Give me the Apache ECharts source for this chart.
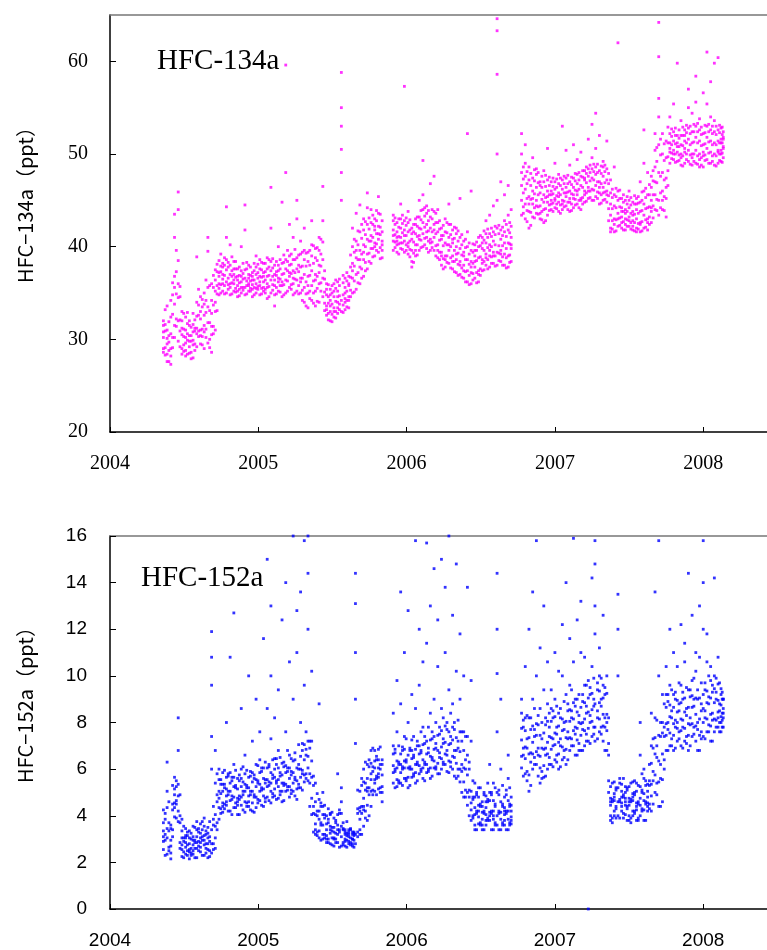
<!DOCTYPE html>
<html>
<head>
<meta charset="utf-8">
<script src="https://cdn.jsdelivr.net/npm/echarts@6/dist/echarts.min.js"></script>
<style>
  html, body { margin: 0; padding: 0; background: #fff; }
  #chart { width: 767px; height: 950px; }
</style>
</head>
<body>
<div id="chart"></div>
<script>
// each row: [decimal year, values for that time slot...]
const rows134 = [
  [2004.360, 29.0, 30.2, 31.5, 28.6, 30.8, 32.0],
  [2004.385, 28.4, 29.5, 31.0, 33.6, 30.1, 27.6],
  [2004.410, 27.3, 29.0, 30.6, 32.4, 34.2, 28.2],
  [2004.435, 31.5, 33.8, 35.6, 30.2, 36.8, 41.0, 43.5],
  [2004.460, 32.0, 34.5, 36.0, 38.5, 45.9, 44.0, 29.8],
  [2004.485, 29.0, 30.5, 32.0, 28.4, 31.2, 33.0],
  [2004.510, 28.2, 29.6, 31.0, 30.2, 28.8, 32.4],
  [2004.535, 28.5, 29.8, 31.5, 30.4, 29.2, 32.0],
  [2004.560, 28.0, 29.4, 30.8, 31.6, 29.9, 32.8],
  [2004.585, 29.2, 30.6, 32.5, 34.0, 31.2, 38.9],
  [2004.610, 29.5, 31.0, 33.0, 34.6, 30.4, 32.2],
  [2004.635, 29.0, 30.8, 32.6, 35.0, 31.5, 33.8],
  [2004.660, 29.6, 31.8, 33.5, 35.6, 41.0, 39.5],
  [2004.685, 28.6, 30.5, 32.8, 34.2, 36.0, 31.4],
  [2004.710, 31.0, 33.0, 35.2, 36.4, 34.0, 37.5],
  [2004.735, 34.8, 36.0, 37.2, 38.5, 35.5, 36.8],
  [2004.760, 35.2, 36.5, 37.8, 38.2, 36.0, 37.0],
  [2004.785, 35.0, 36.2, 37.5, 38.6, 41.0, 44.3],
  [2004.810, 34.8, 36.0, 37.0, 38.0, 35.6, 40.2],
  [2004.835, 35.2, 36.4, 37.6, 38.4, 36.0, 37.0],
  [2004.860, 34.6, 35.8, 36.8, 37.6, 35.2, 36.4],
  [2004.885, 35.0, 36.2, 37.4, 35.6, 36.8, 40.0],
  [2004.910, 34.8, 35.6, 36.6, 37.5, 44.5, 41.8],
  [2004.935, 35.2, 36.0, 37.0, 38.0, 35.8, 36.6],
  [2004.960, 34.6, 35.4, 36.4, 37.2, 35.9, 36.8],
  [2004.985, 35.0, 36.0, 37.0, 37.8, 35.5, 39.0],
  [2005.010, 34.8, 35.8, 36.8, 37.6, 36.2, 38.6],
  [2005.035, 35.2, 36.2, 37.2, 38.2, 35.6, 36.8],
  [2005.060, 34.4, 35.6, 36.8, 37.6, 36.0, 38.8],
  [2005.085, 35.0, 36.4, 37.4, 38.4, 42.0, 46.4],
  [2005.110, 34.8, 35.8, 37.0, 38.0, 36.4, 33.6],
  [2005.135, 35.2, 36.2, 37.4, 38.0, 36.6, 40.0],
  [2005.160, 34.6, 35.8, 37.0, 38.2, 36.2, 44.8],
  [2005.185, 35.0, 36.4, 37.6, 38.6, 48.0, 59.6],
  [2005.210, 35.6, 36.8, 38.0, 39.0, 37.2, 42.4],
  [2005.235, 34.8, 36.0, 37.4, 38.6, 36.6, 41.0],
  [2005.260, 35.2, 36.4, 37.6, 38.8, 43.0, 45.0],
  [2005.285, 35.0, 36.6, 37.8, 39.2, 36.2, 40.6],
  [2005.310, 34.0, 35.6, 37.0, 38.6, 39.6, 42.0],
  [2005.335, 33.4, 35.0, 36.8, 38.4, 39.4, 35.8],
  [2005.360, 34.2, 35.8, 37.4, 39.0, 40.2, 42.8],
  [2005.385, 33.6, 35.2, 37.0, 38.8, 36.4, 39.8],
  [2005.410, 34.0, 36.0, 38.0, 39.6, 41.0, 37.2],
  [2005.435, 34.6, 36.6, 38.6, 40.5, 42.8, 46.5],
  [2005.460, 32.6, 33.6, 34.8, 36.0, 33.2, 35.4],
  [2005.485, 32.0, 33.0, 34.2, 35.4, 33.6, 34.8],
  [2005.510, 32.4, 33.4, 34.6, 36.0, 33.0, 35.2],
  [2005.535, 32.8, 34.0, 35.2, 36.2, 33.4, 34.6],
  [2005.560, 33.0, 34.2, 45.0, 48.0, 50.5, 53.0, 55.0, 58.8],
  [2005.585, 33.2, 34.4, 35.6, 36.6, 34.0, 35.0],
  [2005.610, 33.4, 34.6, 35.8, 36.8, 34.2, 36.0],
  [2005.635, 35.0, 36.6, 38.2, 40.0, 42.0, 37.4],
  [2005.660, 35.4, 37.0, 38.8, 40.6, 43.6, 39.6],
  [2005.685, 36.0, 37.8, 39.6, 41.6, 44.5, 38.6],
  [2005.710, 36.8, 38.6, 40.2, 41.8, 43.0, 39.4],
  [2005.735, 37.6, 39.2, 40.8, 42.4, 44.2, 45.8],
  [2005.760, 38.2, 39.8, 41.2, 42.6, 40.6, 44.0],
  [2005.785, 39.0, 40.4, 41.8, 43.0, 40.0, 42.2],
  [2005.810, 39.4, 40.8, 42.2, 43.6, 41.4, 45.4],
  [2005.835, 38.8, 40.2, 41.6, 42.8, 40.6, 39.6],
  [2005.910, 39.6, 40.6, 41.8, 42.8, 41.2, 43.4],
  [2005.935, 39.4, 40.6, 41.6, 42.6, 40.2, 41.0],
  [2005.960, 39.8, 41.0, 42.0, 43.0, 40.4, 44.6],
  [2005.985, 39.4, 40.6, 41.8, 42.8, 41.2, 57.3],
  [2006.010, 39.2, 40.4, 41.6, 42.6, 40.0, 43.8],
  [2006.035, 38.4, 39.6, 40.8, 42.0, 37.8, 41.4],
  [2006.060, 39.0, 40.2, 41.4, 42.4, 39.6, 43.0],
  [2006.085, 39.6, 40.8, 42.0, 43.2, 41.2, 45.0],
  [2006.110, 40.0, 41.4, 42.6, 44.0, 45.6, 49.3],
  [2006.135, 39.8, 41.0, 42.4, 43.6, 41.6, 44.4],
  [2006.160, 39.6, 40.8, 42.0, 43.2, 40.4, 46.8],
  [2006.185, 39.6, 41.0, 42.4, 43.8, 41.8, 47.6],
  [2006.210, 38.8, 40.2, 41.6, 42.6, 39.6, 44.0],
  [2006.235, 38.0, 39.4, 40.8, 42.0, 39.0, 41.2],
  [2006.260, 37.8, 39.0, 40.4, 41.6, 38.6, 43.0],
  [2006.285, 38.2, 39.6, 41.0, 42.4, 40.2, 44.6],
  [2006.310, 37.6, 39.0, 40.4, 41.8, 38.4, 40.8],
  [2006.335, 37.2, 38.6, 40.0, 41.4, 39.2, 42.0],
  [2006.360, 37.0, 38.4, 39.8, 41.0, 38.0, 45.2],
  [2006.385, 36.6, 38.0, 39.4, 40.6, 37.4, 39.0],
  [2006.410, 36.2, 37.4, 38.6, 40.0, 41.6, 52.2],
  [2006.435, 36.0, 37.2, 38.4, 39.6, 37.8, 46.0],
  [2006.460, 36.6, 37.8, 39.0, 40.2, 38.4, 39.6],
  [2006.485, 36.2, 37.4, 38.8, 40.0, 37.0, 41.0],
  [2006.510, 37.4, 38.6, 39.8, 41.0, 38.2, 40.4],
  [2006.535, 38.0, 39.2, 40.4, 41.4, 38.8, 42.8],
  [2006.560, 37.8, 39.0, 40.2, 41.4, 39.6, 43.4],
  [2006.585, 38.2, 39.4, 40.6, 41.6, 39.0, 44.4],
  [2006.610, 38.0, 39.4, 42.0, 45.0, 50.0, 58.6, 63.3, 64.6],
  [2006.635, 38.4, 39.6, 40.8, 41.8, 39.2, 47.0],
  [2006.660, 38.0, 39.2, 40.4, 41.6, 42.8, 45.6],
  [2006.685, 37.8, 39.0, 40.4, 41.8, 43.4, 46.6],
  [2006.705, 38.4, 39.8, 41.0, 42.2, 40.2, 44.0],
  [2006.775, 43.4, 45.0, 46.6, 48.0, 50.0, 52.2],
  [2006.800, 43.0, 44.6, 46.2, 47.6, 49.0, 51.0],
  [2006.825, 42.0, 43.8, 45.4, 47.2, 44.6, 48.6],
  [2006.850, 43.2, 44.6, 46.0, 47.4, 45.2, 49.6],
  [2006.875, 43.6, 45.0, 46.4, 47.8, 44.4, 48.4],
  [2006.900, 43.0, 44.4, 45.8, 47.0, 43.6, 46.6],
  [2006.925, 42.6, 44.0, 45.6, 47.0, 44.8, 48.2],
  [2006.950, 43.4, 44.8, 46.0, 47.2, 45.4, 50.6],
  [2006.975, 44.0, 45.0, 46.0, 47.0, 44.6, 45.6],
  [2007.000, 44.2, 45.2, 46.2, 47.0, 45.0, 49.0],
  [2007.025, 43.8, 44.8, 45.8, 46.8, 45.4, 47.8],
  [2007.050, 44.0, 45.0, 46.2, 47.2, 44.6, 53.0],
  [2007.075, 44.4, 45.4, 46.4, 47.4, 45.8, 50.4],
  [2007.100, 43.8, 44.8, 46.0, 47.0, 45.2, 48.8],
  [2007.125, 44.2, 45.2, 46.4, 47.4, 45.6, 51.0],
  [2007.150, 44.6, 45.6, 46.8, 47.8, 46.0, 49.4],
  [2007.175, 44.0, 45.2, 46.6, 47.6, 45.0, 50.2],
  [2007.200, 44.8, 46.0, 47.2, 48.2, 45.6, 47.4],
  [2007.225, 45.2, 46.4, 47.6, 48.4, 46.0, 51.6],
  [2007.250, 45.0, 46.2, 47.4, 48.4, 49.6, 53.2],
  [2007.275, 45.4, 46.6, 47.8, 48.6, 50.6, 54.4],
  [2007.300, 44.6, 45.8, 47.0, 48.2, 46.4, 52.0],
  [2007.325, 45.0, 46.4, 47.6, 48.6, 45.8, 49.2],
  [2007.350, 44.8, 46.0, 47.2, 48.4, 45.6, 51.4],
  [2007.375, 42.0, 43.4, 44.6, 45.8, 41.6, 47.2],
  [2007.400, 41.6, 43.0, 44.4, 45.6, 42.4, 48.6],
  [2007.425, 42.2, 43.6, 45.0, 46.0, 43.0, 62.0],
  [2007.450, 42.0, 43.2, 44.2, 45.2, 42.6, 43.8],
  [2007.475, 41.8, 43.0, 44.0, 45.0, 42.4, 43.6],
  [2007.500, 42.2, 43.2, 44.2, 45.0, 42.8, 46.0],
  [2007.525, 41.8, 42.8, 43.8, 44.8, 42.2, 43.4],
  [2007.550, 42.0, 43.0, 44.0, 45.2, 41.6, 44.6],
  [2007.575, 41.6, 42.6, 43.8, 44.8, 42.4, 47.0],
  [2007.600, 42.0, 43.4, 44.6, 46.0, 49.0, 52.6],
  [2007.625, 41.8, 43.0, 44.2, 45.6, 42.6, 48.0],
  [2007.650, 42.6, 43.8, 45.0, 46.4, 44.2, 47.6],
  [2007.675, 44.0, 45.6, 47.0, 48.6, 50.4, 52.2],
  [2007.700, 43.4, 45.0, 48.0, 51.0, 54.0, 56.0, 60.5, 64.2],
  [2007.725, 44.0, 46.0, 48.0, 50.0, 52.2, 45.0],
  [2007.750, 43.2, 45.2, 47.4, 49.6, 51.4, 46.4],
  [2007.775, 49.0, 50.2, 51.2, 52.2, 50.6, 54.0],
  [2007.800, 49.4, 50.4, 51.4, 52.4, 50.0, 55.4],
  [2007.825, 49.2, 50.2, 51.2, 52.0, 50.8, 59.8],
  [2007.850, 48.8, 50.0, 51.0, 52.0, 49.6, 53.6],
  [2007.875, 49.0, 50.2, 51.4, 52.6, 50.6, 52.0],
  [2007.900, 49.2, 50.4, 51.6, 52.8, 55.0, 57.0],
  [2007.925, 48.8, 50.0, 51.2, 52.4, 49.6, 54.4],
  [2007.950, 49.0, 50.4, 51.8, 53.0, 55.6, 58.4],
  [2007.975, 48.6, 50.0, 51.4, 52.6, 49.4, 53.8],
  [2008.000, 48.6, 49.8, 51.0, 52.2, 50.2, 56.6],
  [2008.025, 49.4, 50.6, 51.8, 53.0, 55.4, 61.0],
  [2008.050, 49.0, 50.2, 51.4, 52.6, 54.0, 57.8],
  [2008.075, 48.8, 50.0, 51.2, 52.4, 53.6, 59.8],
  [2008.100, 49.0, 50.2, 51.4, 52.6, 50.4, 60.4],
  [2008.120, 49.2, 50.4, 51.6, 52.8, 50.0, 51.2],
  [2008.135, 49.6, 50.6, 51.6, 52.4, 50.8, 51.8]
];

// in-between time slots, HFC-134a baseline band
const rows134b = [
  [2004.372, 28.3, 29.1, 30.9, 31.6, 33.2],
  [2004.397, 27.6, 28.8, 29.7, 31.9, 30.4],
  [2004.422, 29.1, 30.2, 32.7, 34.8, 36.1],
  [2004.447, 31.4, 32.2, 34.9, 37.3, 39.6],
  [2004.472, 29.2, 30.9, 32.1, 34.6, 35.7],
  [2004.497, 28.7, 29.4, 30.3, 31.1, 32.8],
  [2004.522, 28.4, 29.9, 30.6, 31.7, 32.9],
  [2004.547, 27.9, 28.6, 29.8, 30.4, 31.3],
  [2004.572, 28.8, 29.5, 30.9, 31.2, 32.1],
  [2004.597, 30.3, 30.9, 32.6, 33.7, 35.4],
  [2004.622, 29.4, 30.3, 31.1, 33.5, 34.3],
  [2004.647, 30.2, 31.1, 32.9, 34.2, 36.4],
  [2004.672, 29.1, 30.0, 31.8, 33.1, 35.8],
  [2004.697, 30.6, 31.4, 33.7, 35.6, 36.9],
  [2004.722, 33.1, 34.9, 35.8, 37.3, 38.1],
  [2004.747, 35.0, 35.9, 37.3, 37.9, 39.2],
  [2004.772, 34.9, 35.8, 36.9, 38.0, 38.8],
  [2004.797, 35.4, 35.9, 36.6, 37.8, 38.3],
  [2004.822, 34.9, 36.1, 36.8, 37.4, 38.9],
  [2004.847, 35.1, 35.5, 36.7, 37.6, 38.4],
  [2004.872, 34.7, 35.4, 36.1, 36.9, 37.8],
  [2004.897, 35.3, 35.6, 36.5, 37.1, 38.2],
  [2004.922, 34.9, 35.8, 36.3, 37.6, 38.3],
  [2004.947, 35.2, 35.5, 36.3, 36.9, 37.8],
  [2004.972, 34.8, 35.6, 36.4, 37.4, 38.2],
  [2004.997, 35.4, 35.7, 36.6, 37.2, 38.1],
  [2005.022, 34.9, 35.5, 36.7, 37.5, 38.3],
  [2005.047, 35.0, 35.4, 36.4, 37.3, 38.2],
  [2005.072, 34.6, 35.7, 36.9, 37.8, 38.6],
  [2005.097, 35.3, 35.9, 36.8, 37.7, 38.7],
  [2005.122, 34.9, 35.6, 36.9, 37.3, 38.4],
  [2005.147, 35.1, 35.8, 36.5, 37.6, 38.6],
  [2005.172, 34.8, 35.9, 37.1, 38.3, 39.1],
  [2005.197, 35.2, 36.3, 37.4, 38.4, 39.6],
  [2005.222, 35.4, 35.9, 37.1, 38.1, 39.2],
  [2005.247, 35.0, 36.5, 37.2, 38.6, 39.7],
  [2005.272, 34.9, 35.8, 37.3, 38.0, 39.1],
  [2005.297, 34.2, 35.3, 36.6, 37.9, 39.4],
  [2005.322, 33.6, 34.9, 36.2, 37.9, 39.3],
  [2005.347, 34.4, 35.2, 36.9, 38.0, 39.6],
  [2005.372, 33.9, 35.0, 36.3, 38.2, 40.1],
  [2005.397, 34.1, 35.5, 36.8, 38.5, 39.9],
  [2005.422, 35.2, 36.1, 37.9, 39.2, 40.8],
  [2005.447, 33.1, 33.9, 35.1, 36.5, 37.4],
  [2005.472, 32.1, 32.8, 33.9, 34.6, 35.9],
  [2005.497, 31.9, 32.7, 33.8, 35.0, 35.8],
  [2005.522, 32.3, 33.0, 34.1, 35.5, 36.4],
  [2005.547, 33.2, 33.8, 34.7, 35.8, 36.5],
  [2005.572, 32.9, 33.7, 34.8, 36.1, 36.9],
  [2005.597, 33.5, 34.2, 35.2, 36.3, 37.2],
  [2005.622, 34.6, 35.3, 36.7, 37.8, 39.1],
  [2005.647, 35.1, 36.3, 37.9, 39.4, 40.8],
  [2005.672, 36.1, 37.2, 38.6, 40.2, 41.7],
  [2005.697, 36.6, 37.6, 39.2, 40.9, 42.4],
  [2005.722, 37.4, 38.3, 40.0, 41.3, 42.7],
  [2005.747, 38.4, 39.3, 40.6, 41.9, 43.1],
  [2005.772, 38.9, 39.8, 41.0, 42.4, 43.4],
  [2005.797, 39.6, 40.3, 41.4, 42.8, 43.9],
  [2005.822, 38.7, 39.9, 41.3, 42.1, 43.5],
  [2005.922, 39.9, 40.5, 41.3, 42.4, 43.1],
  [2005.947, 39.2, 40.3, 41.1, 42.1, 43.0],
  [2005.972, 39.7, 40.4, 41.5, 42.5, 43.4],
  [2005.997, 39.6, 40.2, 41.2, 42.3, 43.1],
  [2006.022, 38.9, 39.7, 40.6, 41.8, 42.9],
  [2006.047, 38.3, 39.3, 40.5, 41.6, 42.4],
  [2006.072, 39.1, 40.2, 41.1, 42.2, 43.2],
  [2006.097, 39.9, 40.7, 41.9, 42.9, 43.9],
  [2006.122, 40.2, 40.9, 42.1, 43.3, 44.2],
  [2006.147, 39.4, 40.6, 41.7, 42.8, 43.9],
  [2006.172, 39.9, 40.5, 41.6, 43.0, 44.0],
  [2006.197, 39.0, 40.1, 41.4, 42.6, 43.6],
  [2006.222, 38.6, 39.4, 40.7, 41.9, 42.8],
  [2006.247, 37.6, 38.7, 40.1, 41.2, 42.3],
  [2006.272, 38.3, 39.0, 40.2, 41.5, 42.6],
  [2006.297, 37.7, 38.8, 40.0, 41.3, 42.4],
  [2006.322, 37.3, 38.4, 39.6, 40.9, 42.1],
  [2006.347, 36.9, 38.1, 39.3, 40.6, 41.7],
  [2006.372, 36.7, 37.7, 39.1, 40.2, 41.3],
  [2006.397, 36.2, 37.3, 38.6, 39.9, 40.8],
  [2006.422, 35.9, 36.9, 38.1, 39.2, 40.4],
  [2006.447, 36.4, 37.1, 38.2, 39.4, 40.3],
  [2006.472, 36.1, 37.2, 38.5, 39.6, 40.5],
  [2006.497, 36.9, 37.6, 38.9, 40.1, 41.2],
  [2006.522, 37.5, 38.4, 39.6, 40.7, 41.7],
  [2006.547, 37.6, 38.6, 39.9, 41.0, 41.9],
  [2006.572, 38.2, 38.9, 40.0, 41.1, 42.0],
  [2006.597, 37.9, 39.0, 40.2, 41.3, 42.2],
  [2006.622, 38.5, 39.3, 40.1, 41.4, 42.3],
  [2006.647, 38.0, 38.9, 40.1, 41.2, 42.1],
  [2006.672, 37.7, 38.8, 39.8, 41.1, 42.4],
  [2006.695, 38.3, 39.1, 40.3, 41.5, 42.6],
  [2006.787, 43.6, 44.3, 45.8, 47.3, 48.6],
  [2006.812, 42.7, 43.9, 45.2, 46.8, 48.1],
  [2006.837, 42.3, 43.7, 45.1, 46.6, 47.9],
  [2006.862, 43.1, 44.2, 45.7, 47.1, 48.3],
  [2006.887, 43.5, 44.3, 45.6, 46.9, 48.0],
  [2006.912, 42.9, 43.8, 45.1, 46.4, 47.6],
  [2006.937, 42.8, 44.1, 45.3, 46.5, 47.7],
  [2006.962, 43.9, 44.5, 45.6, 46.6, 47.5],
  [2006.987, 43.8, 44.7, 45.7, 46.5, 47.4],
  [2007.012, 44.1, 44.6, 45.5, 46.4, 47.3],
  [2007.037, 43.6, 44.5, 45.6, 46.6, 47.4],
  [2007.062, 44.3, 44.9, 45.8, 46.8, 47.6],
  [2007.087, 44.0, 44.8, 45.9, 46.8, 47.7],
  [2007.112, 43.9, 44.6, 45.7, 46.7, 47.5],
  [2007.137, 44.5, 45.1, 46.1, 47.1, 47.9],
  [2007.162, 44.2, 45.0, 46.2, 47.2, 48.0],
  [2007.187, 44.6, 45.3, 46.4, 47.5, 48.2],
  [2007.212, 44.9, 45.8, 46.9, 47.9, 48.6],
  [2007.237, 45.3, 46.0, 47.1, 48.0, 48.8],
  [2007.262, 45.0, 46.1, 47.2, 48.1, 48.9],
  [2007.287, 45.2, 45.9, 47.0, 48.0, 48.9],
  [2007.312, 44.7, 45.6, 46.8, 47.9, 48.7],
  [2007.337, 45.1, 45.9, 46.9, 48.1, 48.8],
  [2007.362, 42.8, 44.1, 45.5, 46.8, 47.9],
  [2007.387, 41.9, 42.8, 44.1, 45.3, 46.2],
  [2007.412, 41.7, 42.9, 44.2, 45.4, 46.3],
  [2007.437, 42.3, 43.1, 44.3, 45.2, 46.1],
  [2007.462, 41.8, 42.7, 43.8, 44.8, 45.6],
  [2007.487, 42.2, 42.9, 43.8, 44.6, 45.4],
  [2007.512, 41.9, 42.6, 43.6, 44.5, 45.3],
  [2007.537, 41.7, 42.6, 43.5, 44.6, 45.5],
  [2007.562, 41.9, 42.5, 43.6, 44.7, 45.4],
  [2007.587, 41.7, 42.7, 43.9, 45.0, 45.9],
  [2007.612, 42.1, 42.9, 44.1, 45.3, 46.3],
  [2007.637, 42.4, 43.2, 44.3, 45.6, 46.7],
  [2007.662, 43.1, 44.4, 45.6, 47.1, 48.2],
  [2007.687, 43.9, 45.1, 46.9, 49.2, 50.7],
  [2007.712, 44.2, 45.8, 47.6, 49.9, 51.6],
  [2007.737, 43.9, 45.4, 47.2, 49.3, 51.1],
  [2007.762, 46.6, 48.2, 49.7, 51.2, 52.9],
  [2007.787, 49.5, 50.1, 51.0, 51.9, 52.7],
  [2007.812, 49.1, 50.0, 51.1, 52.0, 52.8],
  [2007.837, 49.3, 49.9, 50.8, 51.7, 52.6],
  [2007.862, 48.7, 49.8, 50.9, 52.0, 52.9],
  [2007.887, 49.4, 50.0, 51.2, 52.3, 53.1],
  [2007.912, 48.9, 49.9, 51.0, 52.2, 53.0],
  [2007.937, 49.2, 50.0, 51.3, 52.4, 53.2],
  [2007.962, 48.9, 49.8, 51.2, 52.4, 53.3],
  [2007.987, 48.8, 49.6, 50.9, 52.1, 52.9],
  [2008.012, 49.3, 49.9, 51.1, 52.3, 53.1],
  [2008.037, 49.0, 50.1, 51.3, 52.4, 53.2],
  [2008.062, 49.2, 49.8, 51.0, 52.2, 53.0],
  [2008.087, 48.7, 49.8, 51.0, 52.1, 53.0],
  [2008.110, 49.3, 50.0, 51.2, 52.3, 53.1],
  [2008.128, 49.1, 50.1, 51.2, 52.1, 52.9]
];

const rows152 = [
  [2004.360, 2.55, 2.9, 3.35, 3.7, 4.25, 3.1],
  [2004.385, 2.35, 3.05, 3.45, 4.35, 5.05, 6.3],
  [2004.410, 2.15, 2.7, 2.95, 3.45, 2.4, 3.6],
  [2004.435, 3.95, 4.35, 4.9, 5.15, 5.65, 4.55],
  [2004.460, 3.75, 4.2, 4.85, 5.35, 6.8, 8.2],
  [2004.485, 2.25, 2.55, 3.05, 3.35, 3.85, 2.75],
  [2004.510, 2.35, 2.85, 3.15, 2.65, 3.05, 3.45],
  [2004.535, 2.15, 2.55, 3.05, 3.35, 2.45, 2.8],
  [2004.560, 2.35, 2.75, 3.1, 3.55, 2.5, 2.95],
  [2004.585, 2.2, 2.6, 3.1, 3.4, 3.75, 2.85],
  [2004.610, 2.45, 2.85, 3.25, 3.65, 2.65, 3.05],
  [2004.635, 2.3, 2.75, 3.15, 3.55, 3.9, 2.95],
  [2004.660, 2.2, 2.55, 3.05, 3.5, 3.25, 2.8],
  [2004.685, 2.4, 2.8, 3.4, 6.0, 7.4, 9.6, 10.8, 11.9],
  [2004.710, 2.6, 3.05, 3.55, 4.05, 5.4, 6.8],
  [2004.735, 3.85, 4.35, 5.05, 5.55, 6.0, 4.75],
  [2004.760, 4.15, 4.55, 5.05, 5.35, 5.85, 4.4],
  [2004.785, 4.45, 4.85, 5.15, 5.65, 8.0, 4.6],
  [2004.810, 4.2, 4.65, 5.05, 5.4, 5.85, 10.8],
  [2004.835, 4.35, 4.8, 5.25, 5.65, 6.2, 12.7],
  [2004.860, 4.05, 4.45, 4.75, 5.15, 5.6, 4.6],
  [2004.885, 4.45, 4.8, 5.25, 5.6, 6.0, 8.6],
  [2004.910, 4.15, 4.6, 5.05, 5.35, 5.8, 6.6],
  [2004.935, 4.4, 4.85, 5.2, 5.65, 4.6, 10.0],
  [2004.960, 4.2, 4.55, 5.05, 5.45, 5.85, 7.2],
  [2004.985, 4.35, 4.8, 5.25, 5.55, 6.2, 9.0],
  [2005.010, 4.65, 5.05, 5.35, 5.85, 6.4, 7.6],
  [2005.035, 4.4, 4.85, 5.15, 5.6, 6.05, 11.6],
  [2005.060, 4.8, 5.25, 5.55, 6.05, 8.6, 15.0],
  [2005.085, 4.55, 5.05, 5.4, 5.85, 7.3, 13.0, 10.0],
  [2005.110, 4.85, 5.15, 5.65, 6.0, 6.45, 8.2],
  [2005.135, 4.75, 5.25, 5.55, 6.05, 6.8, 9.4],
  [2005.160, 4.6, 5.05, 5.4, 5.75, 6.25, 12.4],
  [2005.185, 5.05, 5.35, 5.85, 6.15, 7.6, 14.0],
  [2005.210, 4.8, 5.25, 5.6, 6.05, 6.6, 10.6],
  [2005.235, 5.05, 5.4, 5.85, 6.35, 9.0, 16.0],
  [2005.260, 4.7, 5.15, 5.5, 6.05, 11.0, 12.8],
  [2005.285, 5.2, 5.65, 6.0, 6.55, 8.0, 13.6],
  [2005.310, 5.45, 5.75, 6.4, 7.05, 9.6, 15.8],
  [2005.335, 5.5, 6.05, 6.55, 7.2, 12.0, 14.4, 16.0],
  [2005.360, 4.05, 4.75, 5.65, 6.35, 7.2, 10.2],
  [2005.385, 3.2, 3.65, 4.05, 4.6, 3.4, 5.4],
  [2005.410, 3.05, 3.35, 3.85, 4.2, 4.7, 8.8],
  [2005.435, 3.2, 3.6, 4.05, 4.4, 3.0, 5.0],
  [2005.460, 2.85, 3.15, 3.65, 4.0, 3.0, 3.4],
  [2005.485, 2.8, 3.25, 3.55, 4.05, 3.4, 4.1],
  [2005.510, 2.7, 3.05, 3.5, 3.9, 3.0, 3.3],
  [2005.535, 2.85, 3.2, 3.6, 4.05, 3.4, 5.8],
  [2005.560, 2.7, 3.1, 3.55, 4.1, 4.6, 5.2],
  [2005.585, 2.7, 3.0, 3.3, 2.9, 3.2, 3.4],
  [2005.610, 2.8, 3.1, 3.4, 2.9, 3.2, 3.3],
  [2005.635, 2.7, 3.0, 3.3, 3.0, 3.2, 2.8],
  [2005.655, 2.8, 3.2, 7.1, 9.0, 11.0, 13.1, 14.4],
  [2005.685, 3.2, 3.85, 4.35, 5.05, 3.4, 4.2],
  [2005.710, 3.55, 4.25, 4.75, 5.45, 6.0, 4.4],
  [2005.735, 3.8, 4.45, 5.05, 5.6, 6.2, 5.2],
  [2005.760, 4.4, 5.05, 5.55, 6.25, 6.8, 5.8],
  [2005.785, 5.05, 5.55, 6.05, 6.35, 6.8, 5.4],
  [2005.810, 5.15, 5.65, 6.05, 6.4, 6.85, 5.8],
  [2005.835, 4.6, 5.25, 5.75, 6.4, 5.0, 6.2],
  [2005.910, 5.4, 5.85, 6.15, 6.65, 7.0, 8.4],
  [2005.935, 5.25, 5.55, 6.05, 6.35, 7.6, 9.8],
  [2005.960, 5.4, 5.85, 6.2, 6.65, 8.8, 13.6],
  [2005.985, 5.6, 6.05, 6.35, 6.85, 7.4, 11.0],
  [2006.010, 5.2, 5.65, 6.05, 6.6, 8.0, 12.8],
  [2006.035, 5.65, 6.0, 6.45, 6.8, 7.25, 9.2],
  [2006.060, 5.4, 5.85, 6.2, 6.85, 8.6, 15.8],
  [2006.085, 5.8, 6.15, 6.65, 7.0, 9.6, 12.0],
  [2006.110, 5.6, 6.05, 6.4, 7.05, 7.8, 10.6],
  [2006.135, 5.85, 6.2, 6.65, 7.2, 11.4, 15.7],
  [2006.160, 5.6, 6.05, 6.55, 7.25, 8.4, 13.0],
  [2006.185, 6.05, 6.35, 6.85, 7.4, 9.0, 14.6],
  [2006.210, 5.8, 6.25, 6.8, 7.45, 10.4, 12.4],
  [2006.235, 6.0, 6.45, 6.95, 7.65, 8.6, 15.0],
  [2006.260, 6.2, 6.65, 7.15, 7.85, 11.0, 13.8],
  [2006.285, 5.85, 6.35, 7.05, 7.6, 9.4, 16.0],
  [2006.310, 6.0, 6.55, 7.25, 7.8, 8.8, 12.6],
  [2006.335, 5.6, 6.25, 6.8, 7.35, 10.2, 14.8],
  [2006.360, 5.45, 6.0, 6.75, 7.6, 9.0, 11.8],
  [2006.385, 4.8, 5.45, 6.05, 6.8, 7.6, 10.0],
  [2006.410, 4.45, 5.0, 5.75, 6.6, 7.4, 13.8],
  [2006.435, 3.8, 4.25, 4.55, 5.05, 7.2, 9.8],
  [2006.460, 3.6, 4.05, 4.35, 4.8, 3.4, 5.4],
  [2006.485, 3.65, 3.95, 4.45, 4.8, 5.2, 4.2],
  [2006.510, 3.4, 3.85, 4.15, 4.6, 3.6, 4.4],
  [2006.535, 3.6, 4.05, 4.35, 4.85, 3.8, 4.6],
  [2006.560, 3.8, 4.15, 4.65, 5.0, 4.0, 6.2],
  [2006.585, 3.4, 3.85, 4.2, 4.65, 5.4, 4.0],
  [2006.610, 3.6, 4.0, 5.0, 7.6, 10.1, 12.0, 14.4],
  [2006.635, 3.4, 3.85, 4.15, 4.6, 6.0, 9.0],
  [2006.660, 3.6, 4.05, 4.35, 4.8, 3.8, 4.2],
  [2006.685, 3.4, 3.85, 4.2, 4.65, 5.6, 6.6],
  [2006.705, 3.65, 3.95, 4.45, 4.8, 3.8, 4.2],
  [2006.775, 6.05, 6.55, 7.25, 7.75, 8.4, 9.0],
  [2006.800, 5.8, 6.45, 6.95, 7.65, 8.2, 10.4],
  [2006.825, 5.05, 5.75, 6.65, 7.35, 8.2, 12.0],
  [2006.850, 6.0, 6.65, 7.15, 7.85, 9.0, 13.6],
  [2006.875, 6.2, 6.75, 7.45, 7.95, 10.0, 15.8],
  [2006.900, 5.4, 6.05, 6.55, 7.45, 8.6, 11.2],
  [2006.925, 5.65, 6.15, 6.85, 7.55, 9.4, 13.0],
  [2006.950, 6.0, 6.65, 7.15, 8.05, 8.8, 10.6],
  [2006.975, 6.2, 6.85, 7.35, 8.05, 8.6, 9.4],
  [2007.000, 6.4, 7.05, 7.55, 8.25, 9.0, 11.0],
  [2007.025, 6.0, 6.65, 7.15, 7.85, 8.4, 10.2],
  [2007.050, 6.4, 6.95, 7.65, 8.15, 10.0, 12.2],
  [2007.075, 6.2, 6.85, 7.35, 8.05, 9.2, 14.0],
  [2007.100, 6.8, 7.35, 8.05, 8.55, 9.6, 11.6],
  [2007.125, 7.0, 7.65, 8.15, 8.85, 10.6, 15.9],
  [2007.150, 6.6, 7.25, 7.75, 8.45, 9.0, 12.4],
  [2007.175, 6.8, 7.45, 7.95, 8.65, 11.0, 13.2],
  [2007.200, 7.0, 7.65, 8.15, 8.85, 9.6, 10.8],
  [2007.225, 7.2, 7.75, 8.45, 9.05, 0.0, 9.8],
  [2007.250, 7.4, 8.05, 8.55, 9.25, 10.4, 14.2],
  [2007.270, 7.2, 7.8, 8.8, 11.8, 13.0, 14.8, 15.8],
  [2007.300, 7.6, 8.15, 8.85, 9.35, 10.0, 11.2],
  [2007.325, 7.2, 7.85, 8.35, 9.05, 9.6, 12.6],
  [2007.350, 6.8, 7.65, 8.35, 9.25, 10.0, 8.0],
  [2007.375, 4.0, 4.45, 4.75, 5.25, 3.8, 4.6],
  [2007.400, 4.2, 4.65, 4.95, 5.45, 4.0, 4.8],
  [2007.425, 4.0, 4.6, 5.2, 10.0, 12.0, 13.5],
  [2007.450, 4.2, 4.55, 5.05, 5.35, 4.4, 4.8],
  [2007.475, 4.45, 4.75, 5.25, 4.05, 4.6, 5.0],
  [2007.500, 4.0, 4.45, 4.75, 5.25, 3.8, 4.6],
  [2007.525, 4.2, 4.65, 4.95, 5.45, 4.0, 4.8],
  [2007.550, 3.8, 4.25, 4.55, 5.05, 5.4, 4.4],
  [2007.575, 4.0, 4.45, 4.75, 5.25, 6.6, 8.0],
  [2007.600, 3.8, 4.25, 4.65, 4.95, 5.6, 6.0],
  [2007.625, 4.2, 4.55, 5.05, 5.35, 4.4, 4.8],
  [2007.650, 4.2, 4.85, 5.35, 6.25, 7.0, 8.4],
  [2007.675, 5.0, 5.75, 6.65, 7.35, 8.2, 13.6],
  [2007.700, 4.4, 5.45, 6.35, 7.45, 10.0, 15.8],
  [2007.725, 4.6, 5.55, 6.65, 7.55, 8.0, 9.2],
  [2007.750, 6.8, 7.45, 7.95, 8.65, 9.2, 10.4],
  [2007.775, 7.0, 7.55, 8.25, 8.75, 9.6, 12.0],
  [2007.800, 6.8, 7.45, 7.95, 8.65, 9.2, 11.0],
  [2007.825, 7.2, 7.75, 8.45, 8.95, 10.4, 8.0],
  [2007.850, 7.0, 7.65, 8.15, 8.85, 9.6, 12.2],
  [2007.875, 7.2, 7.75, 8.45, 9.05, 10.6, 11.4],
  [2007.900, 6.8, 7.45, 7.95, 8.65, 9.4, 14.4],
  [2007.925, 7.4, 7.95, 8.65, 9.15, 9.8, 12.6],
  [2007.950, 7.2, 7.85, 8.35, 9.05, 10.2, 11.0],
  [2007.975, 6.8, 7.45, 8.15, 9.05, 10.8, 13.0],
  [2008.000, 7.4, 8.0, 8.6, 9.2, 12.0, 14.0, 15.8],
  [2008.025, 7.6, 8.15, 8.85, 9.35, 10.6, 11.8],
  [2008.050, 7.2, 7.85, 8.35, 9.05, 9.8, 10.4],
  [2008.075, 7.6, 8.15, 8.85, 9.45, 10.0, 14.2],
  [2008.100, 7.8, 8.45, 8.95, 9.65, 8.2, 10.8],
  [2008.120, 7.6, 8.25, 8.75, 9.45, 8.0, 9.2],
  [2008.135, 7.8, 8.4, 9.0, 8.2, 8.6, 9.0]
];

// in-between time slots, HFC-152a baseline band
const rows152b = [
  [2004.372, 2.3, 2.95, 3.2, 3.85, 4.1],
  [2004.397, 2.5, 2.65, 3.35, 3.7, 4.6],
  [2004.422, 3.1, 3.4, 4.25, 4.5, 5.3],
  [2004.447, 3.9, 4.5, 4.65, 5.25, 5.5],
  [2004.472, 2.6, 2.85, 3.7, 4.0, 4.9],
  [2004.497, 2.2, 2.9, 3.05, 3.55, 2.45],
  [2004.522, 2.3, 2.5, 3.15, 3.3, 2.75],
  [2004.547, 2.4, 2.6, 3.25, 2.3, 3.0],
  [2004.572, 2.2, 2.85, 2.95, 3.5, 2.6],
  [2004.597, 2.5, 2.7, 3.3, 3.45, 2.9],
  [2004.622, 2.3, 2.95, 3.1, 3.75, 3.4],
  [2004.647, 2.4, 2.6, 3.2, 3.35, 2.8],
  [2004.672, 2.25, 2.9, 3.1, 3.75, 2.5],
  [2004.697, 2.55, 2.8, 3.6, 3.85, 4.4],
  [2004.722, 3.4, 3.7, 4.6, 4.9, 5.8],
  [2004.747, 4.1, 4.3, 4.95, 5.35, 5.55],
  [2004.772, 4.3, 4.5, 5.2, 5.35, 5.95],
  [2004.797, 4.2, 4.9, 5.05, 5.7, 5.8],
  [2004.822, 4.05, 4.7, 4.85, 5.5, 5.65],
  [2004.847, 4.35, 4.55, 5.2, 5.3, 5.95],
  [2004.872, 4.05, 4.7, 4.85, 5.5, 5.75],
  [2004.897, 4.25, 4.9, 5.05, 5.45, 6.1],
  [2004.922, 4.4, 4.55, 5.2, 5.3, 5.95],
  [2004.947, 4.25, 4.9, 5.05, 5.7, 5.9],
  [2004.972, 4.15, 4.8, 4.9, 5.6, 5.75],
  [2004.997, 4.55, 4.7, 5.4, 5.5, 6.15],
  [2005.022, 4.45, 5.1, 5.2, 5.9, 6.05],
  [2005.047, 4.6, 4.75, 5.4, 5.55, 6.3],
  [2005.072, 4.65, 5.3, 5.45, 6.1, 6.2],
  [2005.097, 4.8, 4.95, 5.6, 5.75, 6.4],
  [2005.122, 4.7, 5.4, 5.5, 6.2, 6.45],
  [2005.147, 4.9, 5.05, 5.7, 5.85, 6.5],
  [2005.172, 4.65, 5.3, 5.4, 6.1, 6.3],
  [2005.197, 5.1, 5.25, 5.9, 6.05, 6.8],
  [2005.222, 4.95, 5.1, 5.75, 5.9, 6.45],
  [2005.247, 4.85, 5.55, 5.65, 6.4, 6.7],
  [2005.272, 5.2, 5.35, 6.0, 6.2, 7.05],
  [2005.297, 5.1, 5.8, 5.95, 6.8, 7.1],
  [2005.322, 5.6, 5.8, 6.6, 6.85, 7.6],
  [2005.347, 4.4, 5.4, 5.8, 6.9, 7.2],
  [2005.372, 3.3, 4.1, 4.4, 5.3, 5.7],
  [2005.397, 3.15, 3.3, 4.0, 4.2, 4.95],
  [2005.422, 2.95, 3.6, 3.7, 4.4, 4.55],
  [2005.447, 3.05, 3.2, 3.9, 4.05, 4.45],
  [2005.472, 2.85, 3.0, 3.7, 3.85, 4.3],
  [2005.497, 2.75, 3.35, 3.5, 4.15, 3.05],
  [2005.522, 2.85, 3.0, 3.7, 3.8, 3.25],
  [2005.547, 2.65, 3.3, 3.4, 4.1, 4.25],
  [2005.572, 2.75, 2.85, 3.4, 3.45, 3.7],
  [2005.597, 2.65, 3.15, 3.25, 3.75, 2.95],
  [2005.622, 2.75, 2.85, 3.4, 3.45, 3.05],
  [2005.645, 2.65, 3.15, 3.25, 2.95, 3.3],
  [2005.670, 3.1, 3.3, 4.1, 4.3, 5.1],
  [2005.697, 3.2, 4.1, 4.4, 5.3, 5.6],
  [2005.722, 3.9, 4.2, 5.1, 5.4, 6.3],
  [2005.747, 4.0, 4.9, 5.2, 6.1, 6.4],
  [2005.772, 4.9, 5.1, 5.9, 6.1, 6.9],
  [2005.797, 4.9, 5.6, 5.7, 6.4, 6.55],
  [2005.822, 5.0, 5.2, 6.0, 6.2, 6.95],
  [2005.922, 5.2, 5.9, 6.0, 6.7, 6.85],
  [2005.947, 5.4, 5.5, 6.2, 6.3, 7.0],
  [2005.972, 5.3, 6.0, 6.1, 6.8, 6.95],
  [2005.997, 5.5, 5.6, 6.3, 6.4, 7.3],
  [2006.022, 5.3, 6.0, 6.1, 6.8, 6.9],
  [2006.047, 5.7, 5.8, 6.5, 6.6, 7.4],
  [2006.072, 5.5, 6.2, 6.3, 7.0, 7.2],
  [2006.097, 5.9, 6.0, 6.7, 6.8, 7.6],
  [2006.122, 5.5, 6.2, 6.3, 7.1, 7.4],
  [2006.147, 5.9, 6.0, 6.7, 6.9, 7.8],
  [2006.172, 5.7, 6.4, 6.5, 7.3, 7.6],
  [2006.197, 6.0, 6.1, 6.9, 7.1, 8.0],
  [2006.222, 5.8, 6.5, 6.7, 7.5, 7.8],
  [2006.247, 6.2, 6.3, 7.1, 7.3, 8.2],
  [2006.272, 5.9, 6.6, 6.8, 7.7, 8.0],
  [2006.297, 6.1, 6.3, 7.1, 7.4, 8.4],
  [2006.322, 5.7, 6.5, 6.8, 7.7, 8.0],
  [2006.347, 5.7, 6.0, 6.9, 7.2, 8.1],
  [2006.372, 5.0, 5.9, 6.2, 7.2, 7.6],
  [2006.397, 4.8, 5.1, 6.0, 6.4, 7.4],
  [2006.422, 4.0, 4.8, 5.1, 6.0, 6.3],
  [2006.447, 3.9, 4.0, 4.7, 4.8, 5.5],
  [2006.472, 3.4, 4.1, 4.2, 4.9, 5.0],
  [2006.497, 3.6, 3.7, 4.4, 4.5, 5.2],
  [2006.522, 3.4, 4.1, 4.2, 4.9, 5.0],
  [2006.547, 3.8, 3.9, 4.6, 4.7, 5.4],
  [2006.572, 3.4, 4.1, 4.2, 4.9, 5.0],
  [2006.597, 3.6, 3.7, 4.4, 4.5, 5.2],
  [2006.622, 3.4, 4.1, 4.2, 4.9, 5.1],
  [2006.647, 3.6, 3.7, 4.4, 4.5, 5.3],
  [2006.672, 3.4, 4.1, 4.2, 4.9, 5.1],
  [2006.695, 3.6, 3.7, 4.4, 4.5, 5.2],
  [2006.787, 5.7, 6.6, 6.9, 7.8, 8.1],
  [2006.812, 5.5, 5.9, 6.9, 7.3, 8.3],
  [2006.837, 5.3, 6.3, 6.7, 7.7, 8.2],
  [2006.862, 6.2, 6.5, 7.4, 7.7, 8.6],
  [2006.887, 5.7, 6.6, 6.9, 7.9, 8.3],
  [2006.912, 5.6, 5.9, 6.9, 7.3, 8.0],
  [2006.937, 5.7, 6.6, 6.9, 7.9, 8.2],
  [2006.962, 6.2, 6.5, 7.4, 7.8, 8.4],
  [2006.987, 6.1, 7.0, 7.3, 8.2, 8.5],
  [2007.012, 6.3, 6.6, 7.5, 7.8, 8.7],
  [2007.037, 6.1, 7.0, 7.3, 8.2, 8.6],
  [2007.062, 6.5, 6.8, 7.7, 8.0, 8.9],
  [2007.087, 6.4, 7.3, 7.6, 8.5, 8.8],
  [2007.112, 7.0, 7.3, 8.2, 8.5, 9.4],
  [2007.137, 6.6, 7.5, 7.8, 8.7, 9.0],
  [2007.162, 6.8, 7.1, 8.0, 8.3, 9.2],
  [2007.187, 6.8, 7.7, 8.0, 8.9, 9.2],
  [2007.212, 7.2, 7.5, 8.4, 8.7, 9.6],
  [2007.237, 7.1, 8.0, 8.3, 9.2, 9.5],
  [2007.262, 7.5, 7.8, 8.7, 9.0, 9.9],
  [2007.287, 7.3, 8.2, 8.5, 9.4, 9.7],
  [2007.312, 7.5, 7.8, 8.7, 9.0, 9.9],
  [2007.337, 6.8, 7.8, 8.2, 9.2, 9.5],
  [2007.362, 5.0, 5.5, 6.6, 7.1, 8.2],
  [2007.387, 3.9, 4.6, 4.7, 5.4, 3.7],
  [2007.412, 4.3, 4.4, 5.1, 5.2, 3.9],
  [2007.437, 3.9, 4.6, 4.7, 5.4, 5.6],
  [2007.462, 4.1, 4.8, 4.9, 5.6, 3.9],
  [2007.487, 4.3, 4.4, 5.1, 5.2, 3.8],
  [2007.512, 3.9, 4.6, 4.7, 5.4, 3.7],
  [2007.537, 4.1, 4.2, 4.9, 5.0, 5.5],
  [2007.562, 3.8, 4.5, 4.6, 5.3, 3.9],
  [2007.587, 4.2, 4.3, 5.0, 5.1, 5.8],
  [2007.612, 3.8, 4.5, 4.6, 5.3, 5.5],
  [2007.637, 4.3, 4.5, 5.3, 5.5, 6.2],
  [2007.662, 4.5, 5.5, 5.9, 6.9, 7.3],
  [2007.687, 4.9, 5.4, 6.5, 7.0, 8.1],
  [2007.712, 4.4, 5.6, 6.2, 7.4, 8.0],
  [2007.737, 6.0, 6.4, 7.4, 7.8, 8.8],
  [2007.762, 6.8, 7.7, 8.0, 8.9, 9.2],
  [2007.787, 7.0, 7.3, 8.2, 8.5, 9.4],
  [2007.812, 6.9, 7.8, 8.1, 9.0, 9.3],
  [2007.837, 7.3, 7.6, 8.5, 8.8, 9.7],
  [2007.862, 6.9, 7.8, 8.1, 9.0, 9.3],
  [2007.887, 7.1, 7.4, 8.3, 8.6, 9.5],
  [2007.912, 7.0, 7.9, 8.2, 9.1, 9.4],
  [2007.937, 7.5, 7.8, 8.7, 9.0, 9.9],
  [2007.962, 6.8, 7.7, 8.0, 9.0, 9.4],
  [2007.987, 7.3, 7.6, 8.5, 8.8, 9.7],
  [2008.012, 7.3, 8.2, 8.5, 9.4, 9.7],
  [2008.037, 7.6, 7.9, 8.8, 9.1, 10.0],
  [2008.062, 7.2, 8.1, 8.4, 9.3, 9.6],
  [2008.087, 7.8, 8.1, 9.0, 9.3, 9.9],
  [2008.110, 7.6, 8.5, 8.8, 9.7, 8.0],
  [2008.128, 7.8, 8.1, 9.0, 9.3, 8.4]
];

const yearTicks = [2004, 2005, 2006, 2007, 2008];
const ticks134 = [20, 30, 40, 50, 60];
const ticks152 = [0, 2, 4, 6, 8, 10, 12, 14, 16];

function toPoints(rowSets) {
  let pts = [];
  rowSets.forEach(function (rows) {
    for (let i = 0; i < rows.length; i++) {
      for (let j = 1; j < rows[i].length; j++) {
        pts.push([rows[i][0], rows[i][j]]);
      }
    }
  });
  return pts;
}

const serif = '"Liberation Serif", "Times New Roman", serif';
const sans = '"Liberation Sans", Arial, sans-serif';
const cjk = '"Noto Sans CJK JP", sans-serif';
const plain = function (v) { return String(v); };

function bottomAxis(idx, font, size, margin) {
  return {
    type: 'value', gridIndex: idx, min: 2004, max: 2008.43,
    axisLine: { lineStyle: { color: '#000', width: 1.5 } },
    axisTick: { inside: true, length: 5, customValues: yearTicks, lineStyle: { color: '#000' } },
    axisLabel: { color: '#000', fontFamily: font, fontSize: size, margin: margin, customValues: yearTicks, formatter: plain },
    splitLine: { show: false }
  };
}
function topBorder(idx) {
  return {
    type: 'value', gridIndex: idx, position: 'top', min: 2004, max: 2008.43,
    axisLine: { show: true, lineStyle: { color: '#777', width: 1.5 } },
    axisTick: { show: false }, axisLabel: { show: false }, splitLine: { show: false }
  };
}
function leftAxis(idx, min, max, ticks, font, size, margin) {
  return {
    type: 'value', gridIndex: idx, min: min, max: max,
    axisLine: { show: true, lineStyle: { color: '#000', width: 1.5 } },
    axisTick: { inside: true, length: 6, customValues: ticks, lineStyle: { color: '#000' } },
    axisLabel: { color: '#000', fontFamily: font, fontSize: size, margin: margin, customValues: ticks, formatter: plain },
    splitLine: { show: false }
  };
}

let chart = echarts.init(document.getElementById('chart'));
chart.setOption({
  animation: false,
  backgroundColor: '#fff',
  grid: [
    { left: 110, right: 0, top: 15, height: 417 },
    { left: 110, right: 0, top: 536, height: 373 }
  ],
  xAxis: [
    bottomAxis(0, serif, 20, 22),
    bottomAxis(1, sans, 19, 22),
    topBorder(0),
    topBorder(1)
  ],
  yAxis: [
    leftAxis(0, 20, 65, ticks134, serif, 20, 22),
    leftAxis(1, 0, 16, ticks152, sans, 19, 23)
  ],
  graphic: [
    { type: 'text', left: 157, top: 47, style: { text: 'HFC-134a', font: '29px ' + serif, fill: '#000' } },
    { type: 'text', left: 141, top: 564, style: { text: 'HFC-152a', font: '29px ' + serif, fill: '#000' } },
    { type: 'text', x: 25, y: 200, rotation: Math.PI / 2,
      style: { text: 'HFC−134a（ppt）', font: '20px ' + cjk, fill: '#000', align: 'center', verticalAlign: 'middle' } },
    { type: 'text', x: 25, y: 700, rotation: Math.PI / 2,
      style: { text: 'HFC−152a（ppt）', font: '20px ' + cjk, fill: '#000', align: 'center', verticalAlign: 'middle' } }
  ],
  series: [
    {
      name: 'HFC-134a', type: 'scatter', xAxisIndex: 0, yAxisIndex: 0,
      symbol: 'rect', symbolSize: 2.8, itemStyle: { color: '#ff00ff' },
      data: toPoints([rows134, rows134b])
    },
    {
      name: 'HFC-152a', type: 'scatter', xAxisIndex: 1, yAxisIndex: 1,
      symbol: 'rect', symbolSize: 2.8, itemStyle: { color: '#0000ff' },
      data: toPoints([rows152, rows152b])
    }
  ]
});
</script>
</body>
</html>
